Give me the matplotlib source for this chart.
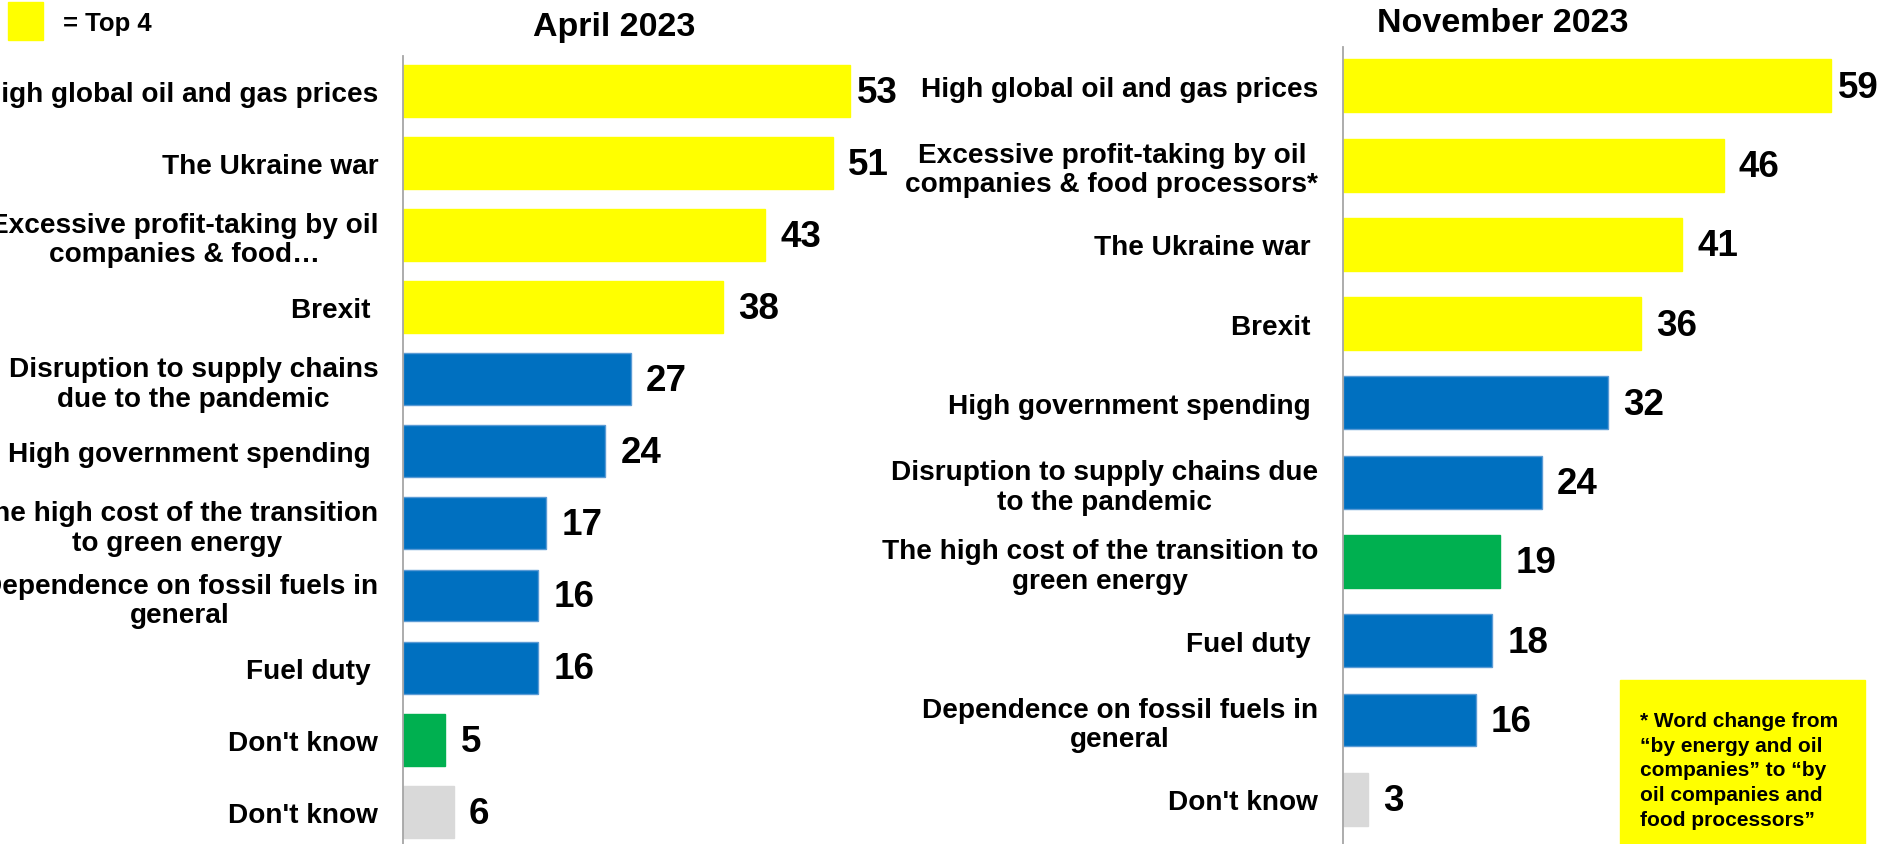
import numpy as np
import matplotlib
matplotlib.use('Agg')
import matplotlib.pyplot as plt
from matplotlib.patches import Rectangle

plt.rcParams['font.family'] = ['Liberation Sans', 'DejaVu Sans']
plt.rcParams['font.weight'] = 'bold'

YELLOW = '#FFFF00'
BLUE = '#0070C0'
GREEN = '#00B050'
GREY = '#D9D9D9'

# April 2023 (top to bottom)
apr_labels = ['High global oil and gas prices', 'The Ukraine war',
              'Excessive profit-taking by oil\ncompanies & food\u2026', 'Brexit ',
              'Disruption to supply chains\ndue to the pandemic', 'High government spending ',
              'The high cost of the transition\nto green energy',
              'Dependence on fossil fuels in\ngeneral', 'Fuel duty ',
              "Don't know", "Don't know"]
apr_values = [53, 51, 43, 38, 27, 24, 17, 16, 16, 5, 6]
apr_colors = [YELLOW, YELLOW, YELLOW, YELLOW, BLUE, BLUE, BLUE, BLUE, BLUE, GREEN, GREY]

# November 2023 (top to bottom)
nov_labels = ['High global oil and gas prices',
              'Excessive profit-taking by oil\ncompanies & food processors*',
              'The Ukraine war ', 'Brexit ', 'High government spending ',
              'Disruption to supply chains due\nto the pandemic',
              'The high cost of the transition to\ngreen energy', 'Fuel duty ',
              'Dependence on fossil fuels in\ngeneral', "Don't know"]
nov_values = [59, 46, 41, 36, 32, 24, 19, 18, 16, 3]
nov_colors = [YELLOW, YELLOW, YELLOW, YELLOW, BLUE, BLUE, GREEN, BLUE, BLUE, GREY]

note = ('* Word change from\n\u201cby energy and oil\ncompanies\u201d to \u201cby\n'
        'oil companies and\nfood processors\u201d')

W, H = 1886, 845
fig = plt.figure(figsize=(W / 100, H / 100), dpi=100)


def px_axes(x0, y0, x1, y1):
    return fig.add_axes([x0 / W, 1 - y1 / H, (x1 - x0) / W, (y1 - y0) / H])


def panel(ax, labels, values, colors, xmax, ylim, bar_h):
    y = np.arange(len(values))
    edges = ['#5B9BD5' if c == BLUE else c for c in colors]
    ax.barh(y, values, height=bar_h, color=colors, edgecolor=edges, linewidth=1)
    ax.set_xlim(0, xmax)
    ax.set_ylim(*ylim)
    ax.set_yticks(y)
    ax.set_yticklabels(labels, fontsize=20.2, fontweight='bold', multialignment='center',
                       linespacing=1.17)
    ax.tick_params(axis='y', length=0, pad=18)
    ax.set_xticks([])
    ax.patch.set_visible(False)
    for s in ['top', 'right', 'bottom']:
        ax.spines[s].set_visible(False)
    ax.spines['left'].set_color('#A6A6A6')
    ax.spines['left'].set_linewidth(1.3)
    for yi, v in zip(y, values):
        pad = 5 if v == max(values) else 11
        ax.annotate(str(v), (v, yi), xytext=(pad, -1), textcoords='offset points',
                    va='center', ha='left', fontsize=26.5, fontweight='bold',
                    annotation_clip=False)


ax1 = px_axes(403.3, 57, 908.5, 845)
panel(ax1, apr_labels, apr_values, apr_colors, 60, (10.447, -0.484), 0.72)

ax2 = px_axes(1343.2, 47.7, 1886, 845)
panel(ax2, nov_labels, nov_values, nov_colors, 65.63, (9.564, -0.493), 0.668)

fig.text(614.5 / W, 1 - 27.5 / H, 'April 2023', ha='center', va='center',
         fontsize=24.5, fontweight='bold')
fig.text(1503 / W, 1 - 24 / H, 'November 2023', ha='center', va='center',
         fontsize=24.5, fontweight='bold')

# legend key
fig.patches.append(Rectangle((8 / W, 1 - 40.7 / H), 35 / W, 37.4 / H,
                             transform=fig.transFigure, color=YELLOW))
fig.text(62.7 / W, 1 - 24 / H, '= Top 4', ha='left', va='center',
         fontsize=18.5, fontweight='bold')

# note box
fig.patches.append(Rectangle((1620 / W, 0), 245 / W, (845 - 681) / H,
                             transform=fig.transFigure, color=YELLOW))
fig.text(1640 / W, 1 - 712 / H, note, ha='left', va='top', fontsize=15,
         fontweight='bold', linespacing=1.38)

fig.savefig('out.png', dpi=100)
